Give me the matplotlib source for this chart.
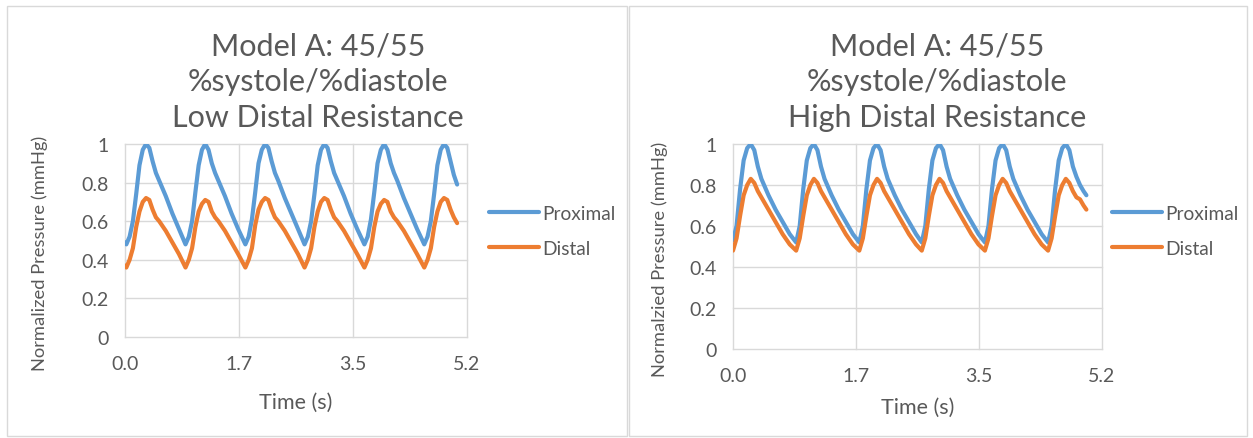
import matplotlib
matplotlib.use("Agg")
import matplotlib.pyplot as plt
from matplotlib.patches import Rectangle

plt.rcParams['font.family'] = ['Lato', 'DejaVu Sans']

# ---------------- data ----------------
titles = ["Model A: 45/55\n%systole/%diastole\nLow Distal Resistance",
          "Model A: 45/55\n%systole/%diastole\nHigh Distal Resistance"]
ylabels = ["Normalized Pressure (mmHg)", "Normalzied Pressure (mmHg)"]
xlabel = "Time (s)"
series_names = ["Proximal", "Distal"]
xtick_vals = [0.0, 5.2 / 3, 10.4 / 3, 5.2]
xtick_labels = ["0.0", "1.7", "3.5", "5.2"]
ytick_vals = [0, 0.2, 0.4, 0.6, 0.8, 1.0]
ytick_labels = ["0", "0.2", "0.4", "0.6", "0.8", "1"]

# Low distal resistance (left panel)
time_low = [0.00,
            0.02, 0.07, 0.12, 0.17, 0.22, 0.27, 0.32, 0.37, 0.42, 0.47, 0.52, 0.62, 0.72, 0.82,
            0.92, 0.97, 1.02, 1.07, 1.12, 1.17, 1.22, 1.27, 1.32, 1.37, 1.42, 1.52, 1.62, 1.72,
            1.83, 1.88, 1.93, 1.98, 2.03, 2.08, 2.13, 2.18, 2.23, 2.28, 2.33, 2.43, 2.53, 2.63,
            2.73, 2.78, 2.83, 2.88, 2.93, 2.98, 3.03, 3.08, 3.13, 3.18, 3.23, 3.33, 3.43, 3.53,
            3.64, 3.69, 3.74, 3.79, 3.84, 3.89, 3.94, 3.99, 4.04, 4.09, 4.14, 4.24, 4.34, 4.44,
            4.55, 4.60, 4.65, 4.70, 4.75, 4.80, 4.85, 4.90, 4.95, 5.00, 5.05]
proximal_low = [0.49,
                0.48, 0.52, 0.60, 0.74, 0.89, 0.97, 1.00, 0.98, 0.91, 0.85, 0.81, 0.73, 0.64, 0.56,
                0.48, 0.52, 0.60, 0.75, 0.89, 0.97, 1.00, 0.97, 0.90, 0.85, 0.81, 0.73, 0.64, 0.56,
                0.48, 0.52, 0.61, 0.75, 0.90, 0.97, 1.00, 0.98, 0.91, 0.85, 0.81, 0.72, 0.64, 0.56,
                0.48, 0.52, 0.60, 0.74, 0.89, 0.97, 1.00, 0.98, 0.91, 0.85, 0.81, 0.73, 0.64, 0.56,
                0.48, 0.52, 0.61, 0.75, 0.90, 0.97, 1.00, 0.97, 0.90, 0.85, 0.81, 0.72, 0.64, 0.56,
                0.48, 0.52, 0.60, 0.74, 0.89, 0.97, 1.00, 0.98, 0.91, 0.84, 0.79]
distal_low = [0.37,
              0.36, 0.40, 0.46, 0.57, 0.65, 0.70, 0.72, 0.71, 0.66, 0.62, 0.60, 0.55, 0.49, 0.43,
              0.36, 0.40, 0.46, 0.57, 0.65, 0.69, 0.71, 0.70, 0.65, 0.62, 0.60, 0.55, 0.49, 0.43,
              0.36, 0.40, 0.46, 0.58, 0.66, 0.70, 0.72, 0.71, 0.66, 0.62, 0.60, 0.55, 0.49, 0.43,
              0.36, 0.40, 0.46, 0.57, 0.65, 0.70, 0.72, 0.71, 0.66, 0.62, 0.60, 0.55, 0.49, 0.43,
              0.36, 0.40, 0.46, 0.57, 0.65, 0.69, 0.71, 0.70, 0.65, 0.62, 0.60, 0.55, 0.49, 0.43,
              0.36, 0.40, 0.46, 0.57, 0.65, 0.70, 0.72, 0.71, 0.66, 0.62, 0.59]

# High distal resistance (right panel)
time_high = [0.00, 0.05, 0.10, 0.15, 0.20, 0.25, 0.30, 0.35, 0.40, 0.45, 0.50, 0.60, 0.70, 0.80,
             0.89, 0.94, 0.99, 1.04, 1.09, 1.14, 1.19, 1.24, 1.29, 1.34, 1.39, 1.49, 1.59, 1.69,
             1.78, 1.83, 1.88, 1.93, 1.98, 2.03, 2.08, 2.13, 2.18, 2.23, 2.28, 2.38, 2.48, 2.58,
             2.66, 2.71, 2.76, 2.81, 2.86, 2.91, 2.96, 3.01, 3.06, 3.11, 3.16, 3.26, 3.36, 3.46,
             3.55, 3.60, 3.65, 3.70, 3.75, 3.80, 3.85, 3.90, 3.95, 4.00, 4.05, 4.15, 4.25, 4.35,
             4.44, 4.49, 4.54, 4.59, 4.64, 4.69, 4.74, 4.79, 4.84, 4.89, 4.94, 4.98]
proximal_high = [0.53, 0.60, 0.78, 0.92, 0.98, 1.00, 0.97, 0.89, 0.83, 0.79, 0.75, 0.68, 0.62, 0.56,
                 0.52, 0.60, 0.78, 0.92, 0.98, 1.00, 0.97, 0.89, 0.83, 0.79, 0.75, 0.68, 0.62, 0.56,
                 0.52, 0.60, 0.78, 0.92, 0.98, 1.00, 0.97, 0.89, 0.83, 0.79, 0.75, 0.68, 0.62, 0.56,
                 0.52, 0.60, 0.78, 0.92, 0.98, 1.00, 0.97, 0.89, 0.83, 0.79, 0.75, 0.68, 0.62, 0.56,
                 0.52, 0.60, 0.78, 0.92, 0.98, 1.00, 0.97, 0.89, 0.83, 0.79, 0.75, 0.68, 0.62, 0.56,
                 0.52, 0.60, 0.78, 0.92, 0.98, 1.00, 0.97, 0.89, 0.84, 0.80, 0.77, 0.75]
distal_high = [0.48, 0.54, 0.65, 0.75, 0.80, 0.83, 0.81, 0.77, 0.74, 0.71, 0.68, 0.62, 0.56, 0.51,
               0.48, 0.54, 0.65, 0.75, 0.80, 0.83, 0.81, 0.77, 0.74, 0.71, 0.68, 0.62, 0.56, 0.51,
               0.48, 0.54, 0.65, 0.75, 0.80, 0.83, 0.81, 0.77, 0.74, 0.71, 0.68, 0.62, 0.56, 0.51,
               0.48, 0.54, 0.65, 0.75, 0.80, 0.83, 0.81, 0.77, 0.74, 0.71, 0.68, 0.62, 0.56, 0.51,
               0.48, 0.54, 0.65, 0.75, 0.80, 0.83, 0.81, 0.77, 0.74, 0.71, 0.68, 0.62, 0.56, 0.51,
               0.48, 0.54, 0.65, 0.75, 0.80, 0.83, 0.81, 0.77, 0.74, 0.73, 0.70, 0.68]

# ---------------- styling ----------------
W, H = 1253, 439
BLUE = "#5B9BD5"
ORANGE = "#ED7D31"
TXT = "#595959"
GRID = "#D9D9D9"

fig = plt.figure(figsize=(W / 100, H / 100), dpi=100)
fig.patch.set_facecolor("white")


def fx(px):
    return px / W


def fy(py):
    return 1 - py / H


# panel borders
for (x0, x1) in [(7, 627), (629, 1247)]:
    fig.patches.append(Rectangle((fx(x0), fy(437)), fx(x1 - x0), (437 - 7) / H,
                                 transform=fig.transFigure, fill=False,
                                 edgecolor=GRID, linewidth=1.0))

panels = [
    dict(ax=(125, 467, 145, 338), title_x=318, ylab_x=40, xlab_y=403, leg_x=489, xpad=13,
         t=time_low, p=proximal_low, d=distal_low),
    dict(ax=(733, 1102, 145, 350), title_x=937, ylab_x=660, xlab_y=408, leg_x=1112, xpad=13,
         t=time_high, p=proximal_high, d=distal_high),
]

for i, pn in enumerate(panels):
    x0, x1, y0, y1 = pn["ax"]
    ax = fig.add_axes([fx(x0), fy(y1), fx(x1 - x0), (y1 - y0) / H])
    lp, = ax.plot(pn["t"], pn["p"], color=BLUE, lw=3.0, label=series_names[0],
                  solid_joinstyle="round", solid_capstyle="round")
    ld, = ax.plot(pn["t"], pn["d"], color=ORANGE, lw=3.0, label=series_names[1],
                  solid_joinstyle="round", solid_capstyle="round")
    ax.set_xlim(0, 5.2)
    ax.set_ylim(0, 1.0)
    ax.set_xticks(xtick_vals)
    ax.set_xticklabels(xtick_labels)
    ax.set_yticks(ytick_vals)
    ax.set_yticklabels(ytick_labels)
    ax.tick_params(axis="x", length=0, colors=TXT, labelsize=14, pad=pn["xpad"])
    ax.tick_params(axis="y", length=0, colors=TXT, labelsize=14, pad=12)
    for s in ax.spines.values():
        s.set_visible(False)
    ax.grid(True, color=GRID, lw=1.0)
    for gl in ax.get_xgridlines() + ax.get_ygridlines():
        gl.set_clip_on(False)
    ax.set_axisbelow(True)

    fig.text(fx(pn["title_x"]), fy(82), titles[i], ha="center", va="center",
             fontsize=22, color=TXT, linespacing=1.33)
    fig.text(fx(pn["ylab_x"]), fy((y0 + y1) / 2 + 12), ylabels[i], rotation=90,
             ha="center", va="center", fontsize=13.2, color=TXT)
    fig.text(fx((x0 + x1) / 2), fy(pn["xlab_y"]), xlabel, ha="center", va="center",
             fontsize=15.5, color=TXT)
    leg = ax.legend(handles=[lp, ld], loc="center left",
                    bbox_to_anchor=(fx(pn["leg_x"]), fy(232)),
                    bbox_transform=fig.transFigure, frameon=False,
                    fontsize=13.8, handlelength=2.6, handletextpad=0.2,
                    labelspacing=0.95, borderpad=0, borderaxespad=0)
    for t in leg.get_texts():
        t.set_color(TXT)

fig.savefig("out.png", dpi=100, facecolor="white")
